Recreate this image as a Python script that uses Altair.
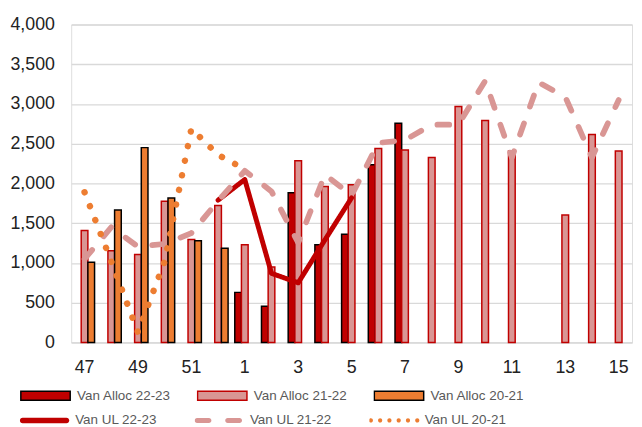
import altair as alt
import pandas as pd

weeks = ["47", "48", "49", "50", "51", "52", "1", "2", "3", "4", "5", "6", "7",
         "8", "9", "10", "11", "12", "13", "14", "15"]
tick_labels = ["47", "49", "51", "1", "3", "5", "7", "9", "11", "13", "15"]

alloc_22_23 = [None, None, None, None, None, None, 630, 456, 1884, 1230, 1362, 2236, 2758,
               None, None, None, None, None, None, None, None]
alloc_21_22 = [1408, 1155, 1106, 1776, 1296, 1722, 1230, 948, 2286, 1963, 1984, 2439, 2422,
               2327, 2969, 2791, 2410, None, 1602, 2617, 2410]
alloc_20_21 = [1010, 1665, 2451, 1818, 1280, 1184, None, None, None, None, None, None, None,
               None, None, None, None, None, None, None, None]

ul_22_23 = [None, None, None, None, None, 1790, 2050, 870, 750, 1290, 1820, None, None,
            None, None, None, None, None, None, None, None]
ul_21_22 = [1050, 1450, 1205, 1240, 1375, 1780, 2160, 1900, 1255, 2112, 1850, 2510, 2546,
            2740, 2740, 3290, 2327, 3271, 3090, 2327, 3050]
ul_20_21 = [1890, 1020, 130, 1020, 2690, 2360, 2180, None, None, None, None, None, None,
            None, None, None, None, None, None, None, None]

bar_series = ["Van Alloc 22-23", "Van Alloc 21-22", "Van Alloc 20-21"]
bar_fill = ["#C00000", "#D99694", "#ED7D31"]
bar_stroke = ["#000000", "#C00000", "#000000"]

line_series = ["Van UL 22-23", "Van UL 21-22", "Van UL 20-21"]
line_color = ["#C00000", "#D99694", "#ED7D31"]
line_dash = [[1, 0], [12, 18], [0.1, 15]]
# widths for the alphabetically sorted series: 20-21, 21-22, 22-23
line_width_sorted = [6.5, 5, 4.5]

# legend glyphs (unit square -1..1, scaled to 50 px)
glyph_solid = "M-0.89,-0.11H0.89A0.11,0.11 0 0 1 0.89,0.11H-0.89A0.11,0.11 0 0 1 -0.89,-0.11Z"
glyph_dashed = ("M-0.9,-0.1H-0.42A0.1,0.1 0 0 1 -0.42,0.1H-0.9A0.1,0.1 0 0 1 -0.9,-0.1Z"
                "M0.34,-0.1H0.82A0.1,0.1 0 0 1 0.82,0.1H0.34A0.1,0.1 0 0 1 0.34,-0.1Z")
glyph_dotted = ("M-1.025,0A0.085,0.085 0 1 0 -0.855,0A0.085,0.085 0 1 0 -1.025,0Z"
                "M-0.649,0A0.085,0.085 0 1 0 -0.479,0A0.085,0.085 0 1 0 -0.649,0Z"
                "M-0.273,0A0.085,0.085 0 1 0 -0.103,0A0.085,0.085 0 1 0 -0.273,0Z"
                "M0.103,0A0.085,0.085 0 1 0 0.273,0A0.085,0.085 0 1 0 0.103,0Z"
                "M0.479,0A0.085,0.085 0 1 0 0.649,0A0.085,0.085 0 1 0 0.479,0Z"
                "M0.855,0A0.085,0.085 0 1 0 1.025,0A0.085,0.085 0 1 0 0.855,0Z")
line_glyphs = [glyph_solid, glyph_dashed, glyph_dotted]


def long_df(names, arrays):
    rows = []
    for name, arr in zip(names, arrays):
        for w, v in zip(weeks, arr):
            if v is not None:
                rows.append({"week": w, "series": name, "value": v})
    return pd.DataFrame(rows)


bar_df = long_df(bar_series, [alloc_22_23, alloc_21_22, alloc_20_21])
line_df = long_df(line_series, [ul_22_23, ul_21_22, ul_20_21])

FONT = "Liberation Sans"
LEG_FS = 13.6

bar_legend = alt.Legend(
    title=None, orient="none", legendX=-52, legendY=368, direction="horizontal",
    columns=3, columnPadding=26, gridAlign="all",
    symbolType="M-1,-0.18H1V0.18H-1Z", symbolSize=2500, symbolStrokeWidth=1.5,
    clipHeight=16, labelFont=FONT, labelFontSize=LEG_FS, labelColor="#595959",
    labelOffset=6, symbolOpacity=1,
)

line_legend = alt.Legend(
    title=None, orient="none", legendX=-52, legendY=393, direction="horizontal",
    columns=3, columnPadding=38, gridAlign="all",
    symbolSize=2500, symbolStrokeWidth=0, symbolOpacity=1,
    clipHeight=16, labelFont=FONT, labelFontSize=LEG_FS, labelColor="#595959",
    labelOffset=6,
)

x_enc = alt.X(
    "week:N", sort=weeks,
    scale=alt.Scale(domain=weeks, paddingInner=0.25, paddingOuter=0.125),
    axis=alt.Axis(values=tick_labels, labelAngle=0, ticks=False, title=None,
                  domainColor="#D9D9D9", domainWidth=1.3, labelPadding=16,
                  labelFontSize=18, labelFont=FONT, labelColor="#222222", grid=False),
)
y_enc = alt.Y(
    "value:Q",
    scale=alt.Scale(domain=[0, 4000], nice=False),
    axis=alt.Axis(values=[0, 500, 1000, 1500, 2000, 2500, 3000, 3500, 4000], format=",.0f",
                  ticks=False, domain=False, title=None, grid=True, gridColor="#D9D9D9",
                  gridWidth=1.3, labelPadding=17, labelFontSize=18, labelFont=FONT,
                  labelColor="#222222"),
)

bars = alt.Chart(bar_df).mark_bar(strokeWidth=1.5).encode(
    x=x_enc,
    xOffset=alt.XOffset("series:N", scale=alt.Scale(domain=bar_series, paddingInner=0, paddingOuter=0)),
    y=y_enc,
    fill=alt.Fill("series:N", scale=alt.Scale(domain=bar_series, range=bar_fill), legend=bar_legend),
    stroke=alt.Stroke("series:N", scale=alt.Scale(domain=bar_series, range=bar_stroke), legend=bar_legend),
)

lines = alt.Chart(line_df).mark_line(strokeCap="round", strokeJoin="round").encode(
    x=alt.X("week:N", sort=weeks),
    y=alt.Y("value:Q"),
    stroke=alt.Stroke("series:N", scale=alt.Scale(domain=line_series, range=line_color), legend=None),
    strokeDash=alt.StrokeDash("series:N", scale=alt.Scale(domain=line_series, range=line_dash), legend=None),
    strokeWidth=alt.StrokeWidth("series:N", scale=alt.Scale(range=line_width_sorted), legend=None),
)

# invisible points that only carry the legend for the lines
line_keys = alt.Chart(line_df).mark_point(filled=True, opacity=0, strokeWidth=0).encode(
    x=alt.X("week:N", sort=weeks),
    y=alt.Y("value:Q"),
    fill=alt.Fill("series:N", scale=alt.Scale(domain=line_series, range=line_color), legend=line_legend),
    shape=alt.Shape("series:N", scale=alt.Scale(domain=line_series, range=line_glyphs), legend=line_legend),
)

chart = alt.layer(bars, lines, line_keys).resolve_scale(
    stroke="independent", fill="independent", strokeDash="independent",
    strokeWidth="independent", shape="independent"
).properties(
    width=568, height=322,
    autosize=alt.AutoSizeParams(type="none"),
    padding={"left": 64, "top": 14, "right": 2, "bottom": 90},
).configure_view(stroke=None).configure(background="white")

chart.save("out.html", embed_options={"renderer": "svg", "actions": False})
